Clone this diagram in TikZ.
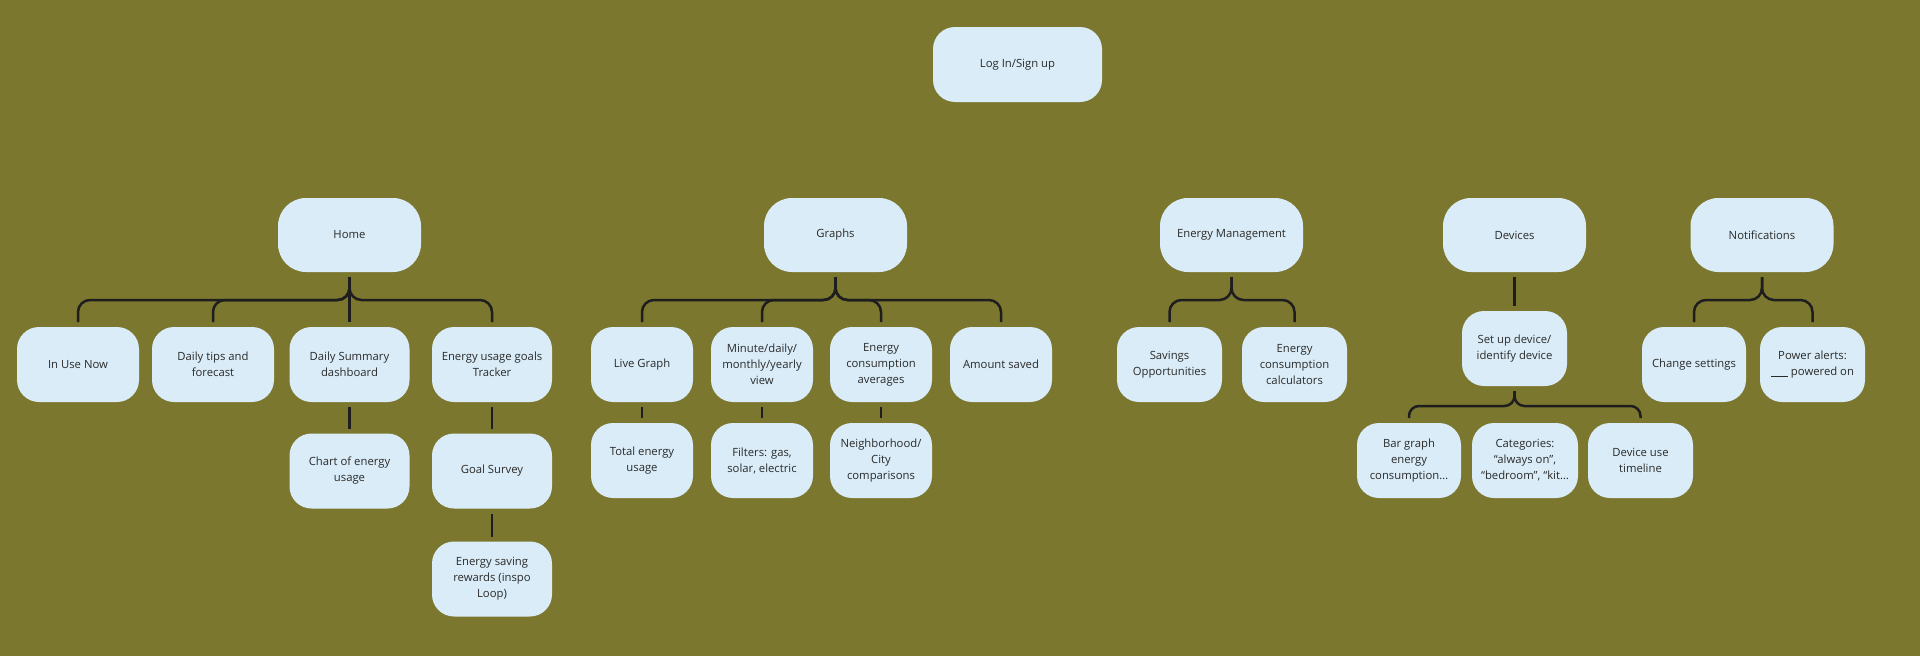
\documentclass[tikz,border=0pt]{standalone}
\usepackage{fontspec}
\setmainfont{Open Sans}
\usepackage{tikz}
\usetikzlibrary{calc}
\definecolor{bgolive}{HTML}{7C772F}
\definecolor{cardblue}{HTML}{D9ECF7}
\definecolor{inkgrey}{HTML}{2A2A2A}
\definecolor{wireblack}{HTML}{1E1E1E}

\begin{document}
\begin{tikzpicture}[x=1pt, y=-1pt,
	card/.style={rectangle, rounded corners=22pt, fill=cardblue, text=inkgrey, align=center,
		minimum width=#1, minimum height=75pt, inner sep=0pt, outer ysep=5pt,
		font=\fontsize{11.3}{16}\selectfont},
	head/.style={card=143pt, minimum height=74pt, rounded corners=28pt},
	link/.style={draw=wireblack, line width=2.5pt},
	fork/.style={link, rounded corners=12pt}]
\fill[bgolive] (0,0) rectangle (1920,656);

\node[card=169pt] (login) at (1017.5,64.5) {Log In/Sign up};

\node[head] (home) at (349.5,235) {Home};
\node[head] (graphs) at (835.5,235) {Graphs};
\node[head] (manage) at (1231.5,235) {Energy Management};
\node[head] (devices) at (1514.5,235) {Devices};
\node[head] (notify) at (1762,235) {Notifications};

\node[card=122pt] (inuse) at (78,364.5) {In Use Now};
\node[card=122pt] (tips) at (213,364.5) {Daily tips and\\forecast};
\node[card=120pt] (summary) at (349.5,364.5) {Daily Summary\\dashboard};
\node[card=120pt] (goals) at (492,364.5) {Energy usage goals\\Tracker};
\node[card=120pt] (chart) at (349.5,471) {Chart of energy\\usage};
\node[card=120pt] (survey) at (492,471) {Goal Survey};
\node[card=120pt] (rewards) at (492,579) {Energy saving\\rewards (inspo\\Loop)};

\node[card=102pt] (live) at (642,364.5) {Live Graph};
\node[card=102pt] (period) at (762,364.5) {Minute/daily/\\monthly/yearly\\view};
\node[card=102pt] (averages) at (881,364.5) {Energy\\consumption\\averages};
\node[card=102pt] (saved) at (1001,364.5) {Amount saved};
\node[card=102pt] (total) at (642,460.5) {Total energy\\usage};
\node[card=102pt] (filters) at (762,460.5) {Filters: gas,\\solar, electric};
\node[card=102pt] (compare) at (881,460.5) {Neighborhood/\\City\\comparisons};

\node[card=105pt] (savings) at (1169.5,364.5) {Savings\\Opportunities};
\node[card=105pt] (calc) at (1294.5,364.5) {Energy\\consumption\\calculators};

\node[card=105pt] (setup) at (1514.5,348.5) {Set up device/\\identify device};
\node[card=104pt] (bargraph) at (1409,460.5) {Bar graph\\energy\\consumption\dots};
\node[card=106pt] (category) at (1525,460.5) {Categories:\\``always on'',\\``bedroom'', ``kit\dots};
\node[card=105pt] (timeline) at (1640.5,460.5) {Device use\\timeline};

\node[card=104pt] (settings) at (1694,364.5) {Change settings};
\node[card=105pt] (alerts) at (1812.5,364.5) {Power alerts:\\\rule[-1pt]{17pt}{0.8pt} powered on};

\draw[fork] (home.south) -- ++(0,23) -| (inuse.north);
\draw[fork] (home.south) -- ++(0,23) -| (tips.north);
\draw[link] (home.south) -- (summary.north);
\draw[fork] (home.south) -- ++(0,23) -| (goals.north);
\draw[link] (summary.south) -- (chart.north);
\draw[link] (goals.south) -- (survey.north);
\draw[link] (survey.south) -- (rewards.north);

\draw[fork] (graphs.south) -- ++(0,23) -| (live.north);
\draw[fork] (graphs.south) -- ++(0,23) -| (period.north);
\draw[fork] (graphs.south) -- ++(0,23) -| (averages.north);
\draw[fork] (graphs.south) -- ++(0,23) -| (saved.north);
\draw[link] (live.south) -- (total.north);
\draw[link] (period.south) -- (filters.north);
\draw[link] (averages.south) -- (compare.north);

\draw[fork] (manage.south) -- ++(0,23) -| (savings.north);
\draw[fork] (manage.south) -- ++(0,23) -| (calc.north);

\draw[link] (devices.south) -- (setup.north);
\draw[fork, rounded corners=10pt] (setup.south) -- ++(0,15) -| (bargraph.north);
\draw[fork, rounded corners=10pt] (setup.south) -- ++(0,15) -| (timeline.north);

\draw[fork] (notify.south) -- ++(0,23) -| (settings.north);
\draw[fork] (notify.south) -- ++(0,23) -| (alerts.north);
\end{tikzpicture}
\end{document}
